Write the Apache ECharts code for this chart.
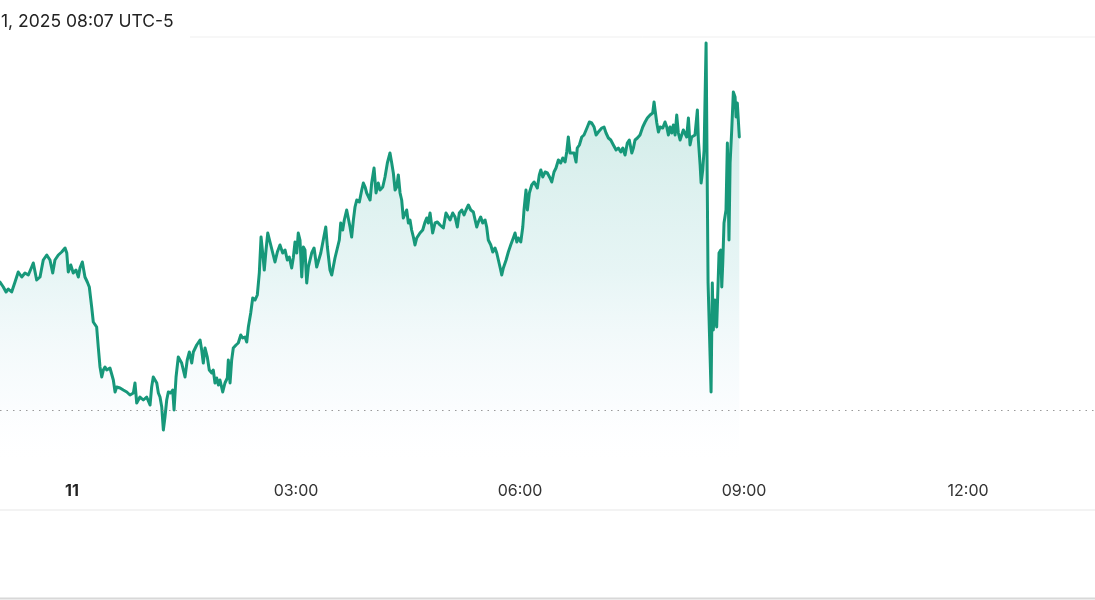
<!DOCTYPE html>
<html>
<head>
<meta charset="utf-8">
<script src="https://cdn.jsdelivr.net/npm/echarts@6/dist/echarts.min.js"></script>
<style>html,body{margin:0;padding:0;background:#fff;}#c{width:1095px;height:600px;}</style>
</head>
<body>
<div id="c"></div>
<script>
// Header text (cut at the left in the reference)
const titleText = '1, 2025 08:07 UTC-5';
// x-axis ticks, minutes from midnight
const tickMinutes = [0, 180, 360, 540, 720];
const tickLabels = ['11', '03:00', '06:00', '09:00', '12:00'];
const prevClose = 100;

// [minutes from midnight, price]
const segLateEvening = [
[-57.9,101.28],[-55.2,101.23],[-53.0,101.18],[-51.2,101.21],[-48.5,101.18],[-45.8,101.28],[-43.2,101.38],[-40.4,101.33],
[-37.8,101.37],[-35.1,101.35],[-32.4,101.43],[-31.1,101.47],[-28.4,101.30],[-25.7,101.33],[-23.1,101.50],[-20.3,101.55],
[-17.7,101.50],[-15.5,101.37],[-13.7,101.50],[-11.0,101.55],[-8.3,101.58],[-5.6,101.62],[-4.2,101.57],[-3.0,101.38],
[-1.0,101.45],[1.0,101.37],[3.2,101.40],[5.1,101.33],[6.4,101.42],[8.3,101.48],[10.4,101.33],[12.3,101.28],[13.9,101.23],
[15.8,101.03],[17.1,100.88],[19.8,100.83],[21.1,100.63],[22.5,100.43],[23.9,100.33],[25.2,100.40],[26.5,100.43],[27.9,100.40],
[30.5,100.42],[33.2,100.30],[34.6,100.18],[35.9,100.23],[38.6,100.22],[41.2,100.20],[44.0,100.18],[46.6,100.15],[49.3,100.17],
[50.6,100.27],[52.0,100.07],[54.6,100.13],[57.3,100.10],[60.0,100.13],[62.7,100.05]
];
const segNight = [
[64.0,100.23],[65.3,100.33],[66.7,100.30],[68.1,100.27],[69.4,100.17],[70.7,100.13],[72.1,100.03],[73.4,99.80],[74.7,99.93],
[76.1,100.10],[77.4,100.18],[79.3,100.17],[80.9,100.20],[82.0,100.00],[83.6,100.33],[85.4,100.53],[88.1,100.47],[89.4,100.45],
[90.8,100.33],[92.6,100.50],[94.3,100.58],[96.2,100.47],[97.5,100.58],[100.2,100.65],[102.9,100.70],[104.2,100.60],[105.5,100.47],
[106.9,100.62],[108.7,100.53],[110.3,100.40],[112.3,100.37],[113.5,100.40],[114.9,100.27],[116.3,100.32],[117.6,100.25],
[118.9,100.30],[121.1,100.18],[122.9,100.27],[124.8,100.32],[125.6,100.50],[127.0,100.27],[128.3,100.50],[129.6,100.62],
[131.8,100.65],[133.6,100.67],[135.6,100.75],[137.2,100.72],[139.0,100.73],[140.4,100.68],[141.7,100.83],[143.6,100.97],
[145.2,101.12],[147.1,101.10],[148.9,101.15],[150.5,101.37],[151.9,101.73],[153.2,101.57],[154.5,101.40],[155.9,101.60],
[157.3,101.77],[159.1,101.68],[161.3,101.57],[163.1,101.48],[165.0,101.58],[167.1,101.65],[169.3,101.57],[171.2,101.60],
[173.0,101.50],[174.6,101.53],[176.5,101.42],[177.8,101.52],[179.2,101.68],[180.6,101.57],[181.8,101.77]
];
const segEarly = [
[183.2,101.70],[184.6,101.33],[185.9,101.63],[187.2,101.60],[188.6,101.27],[189.9,101.43],[192.6,101.57],[194.5,101.62],
[196.6,101.43],[197.9,101.42],[199.9,101.57],[201.9,101.70],[203.9,101.83],[205.2,101.63],[207.3,101.40],[208.7,101.35],
[210.0,101.37],[211.3,101.52],[212.7,101.50],[214.8,101.70],[215.9,101.87],[217.5,101.80],[218.8,101.90],[220.7,102.00],
[222.0,102.02],[223.4,101.83],[224.7,101.73],[226.1,101.90],[227.4,102.03],[228.8,102.10],[230.9,102.08],[232.8,102.20],
[234.1,102.27],[235.5,102.23],[236.8,102.17],[239.5,102.10],[240.8,102.27],[242.7,102.42],[244.3,102.17],[246.1,102.27],
[247.5,102.20],[249.7,102.23],[251.5,102.33],[253.4,102.47],[255.5,102.57],[256.9,102.47],[258.2,102.37],[259.6,102.20],
[260.9,102.23],[262.2,102.35],[263.6,102.17],[264.9,102.10],[266.2,101.92],[267.6,101.93],[268.9,102.00],[270.3,101.87],
[271.6,101.90],[272.9,101.80],[274.3,101.73],[275.6,101.65],[277.0,101.72],[278.3,101.73],[279.6,101.77],[281.8,101.80],
[283.7,101.88],[285.0,101.92],[286.3,101.87],[287.7,101.97],[289.8,101.77],[291.7,101.87],[293.6,101.88],[295.7,101.85],
[298.4,101.82],[300.5,101.97],[302.4,101.93],[303.8,101.90]
];
const segMorning = [
[305.9,101.97],[307.8,101.93],[309.6,101.83],[311.2,101.97],[313.2,102.00],[315.0,101.95],[316.6,102.00],[318.5,102.05],
[320.4,102.00],[322.5,101.98],[323.9,101.90],[325.2,101.83],[326.5,101.88],[328.4,101.93],[330.0,101.87],[331.9,101.90],
[333.2,101.83],[334.5,101.70],[336.5,101.65],[338.1,101.58],[339.9,101.62],[341.3,101.57],[342.6,101.50],[343.9,101.43],
[345.3,101.35],[346.6,101.42],[348.8,101.50],[350.6,101.58],[352.5,101.65],[354.6,101.72],[356.0,101.77],[357.4,101.68],
[358.6,101.72],[360.6,101.68],[362.2,101.83],[363.2,102.00],[364.8,102.20],[365.9,102.00],[367.5,102.17],[369.4,102.25],
[371.3,102.28],[372.9,102.30],[373.9,102.22],[375.5,102.35],[376.7,102.40],[378.3,102.33],[380.1,102.38],[382.0,102.37],
[384.1,102.32],[385.5,102.28],[387.3,102.38],[388.9,102.42],[390.8,102.50],[392.7,102.47],[394.3,102.52],[396.2,102.48],
[397.5,102.58],[398.8,102.73],[400.2,102.57],[401.5,102.55],[403.4,102.57],[405.0,102.48],[406.0,102.62],[407.7,102.65],
[409.6,102.73],[411.4,102.75],[413.0,102.77],[414.1,102.83],[415.7,102.88],[417.6,102.87],[419.5,102.83],[421.1,102.75],
[422.9,102.78]
];
const segPreOpen = [
[424.3,102.77],[425.7,102.82],[427.5,102.83],[429.1,102.77],[431.0,102.72],[432.9,102.70],[435.0,102.65],[437.2,102.60],
[439.0,102.62],[441.0,102.58],[442.6,102.62],[444.4,102.55],[446.2,102.67],[447.8,102.70],[449.8,102.57],[451.1,102.62],
[452.4,102.70],[454.3,102.72],[456.4,102.75],[458.6,102.83],[460.5,102.88],[462.3,102.92],[464.5,102.95],[466.6,102.97],
[467.7,103.08],[468.5,103.00],[469.9,102.87],[471.2,102.78],[472.5,102.83],[474.7,102.82],[476.5,102.88],[477.9,102.83],
[479.2,102.75],[480.5,102.83],[481.9,102.77],[483.2,102.85],[484.6,102.75],[485.9,102.95],[487.2,102.77],[488.6,102.70],
[489.9,102.68],[491.2,102.80],[492.6,102.78],[493.9,102.73],[495.3,102.92],[496.6,102.65],[497.9,102.73],[499.3,102.72],
[500.6,102.75],[502.5,103.00],[503.3,102.70],[504.7,102.45],[505.5,102.27],[506.8,102.40],[507.9,102.60]
];
const segOpen = [
[509.5,103.67],[511.1,101.27],[513.5,100.18],[514.5,101.27],[515.3,100.80],[516.7,101.10],[518.0,100.83],[518.8,101.13],
[519.9,101.57],[521.3,101.60],[522.1,101.23],[522.9,101.47],[523.9,101.87],[525.5,102.00],[526.6,102.67],[527.9,101.70],
[528.8,102.47],[530.1,102.80],[531.4,103.18],[532.8,103.13],[533.6,102.93],[534.6,103.07],[536.2,102.73]
];

const seriesData = [].concat(segLateEvening, segNight, segEarly, segMorning, segPreOpen, segOpen);

const FONT = 'Inter, "Open Sans", sans-serif';
const chart = echarts.init(document.getElementById('c'), null, {renderer: 'canvas'});
chart.setOption({
  animation: false,
  backgroundColor: '#ffffff',
  title: {
    text: titleText, left: 1, top: 13, padding: 0,
    textStyle: {fontFamily: FONT, fontSize: 17.5, fontWeight: 'normal', color: '#222'}
  },
  grid: {left: 0, right: 0, top: 37, bottom: 140, containLabel: false},
  xAxis: {
    type: 'value', min: -57.86, max: 822,
    axisLine: {show: false}, axisTick: {show: false}, splitLine: {show: false},
    axisLabel: {
      customValues: tickMinutes,
      margin: 23,
      fontFamily: FONT,
      fontSize: 16, color: '#333',
      formatter: function (v) {
        const i = tickMinutes.indexOf(v);
        if (i < 0) return '';
        return i === 0 ? '{b|' + tickLabels[i] + '}' : tickLabels[i];
      },
      rich: {b: {fontWeight: 'bold', fontSize: 16, color: '#222', fontFamily: FONT}}
    }
  },
  yAxis: {type: 'value', min: 99.5, max: 103.73, show: false, splitLine: {show: false}},
  series: [{
    type: 'line',
    data: seriesData,
    showSymbol: false,
    sampling: null,
    lineStyle: {color: '#17987a', width: 3, join: 'round', cap: 'round'},
    itemStyle: {color: '#17987a'},
    areaStyle: {
      color: new echarts.graphic.LinearGradient(0, 0, 0, 1, [
        {offset: 0, color: 'rgba(40,165,140,0.36)'},
        {offset: 0.55, color: 'rgba(110,195,195,0.24)'},
        {offset: 0.85, color: 'rgba(190,222,240,0.12)'},
        {offset: 1, color: 'rgba(230,240,250,0)'}
      ])
    },
    markLine: {
      silent: true, symbol: 'none', animation: false,
      label: {show: false},
      lineStyle: {type: [1.5, 5], color: '#9a9a9a', width: 1.2},
      data: [{yAxis: prevClose}]
    }
  }],
  graphic: [
    {type: 'line', shape: {x1: 190, y1: 37, x2: 1095, y2: 37}, style: {stroke: '#efefef', lineWidth: 1}},
    {type: 'line', shape: {x1: 0, y1: 510, x2: 1095, y2: 510}, style: {stroke: '#efefef', lineWidth: 1.5}},
    {type: 'line', shape: {x1: 0, y1: 598.5, x2: 1095, y2: 598.5}, style: {stroke: '#d8d8d8', lineWidth: 2}}
  ]
});
</script>
</body>
</html>
